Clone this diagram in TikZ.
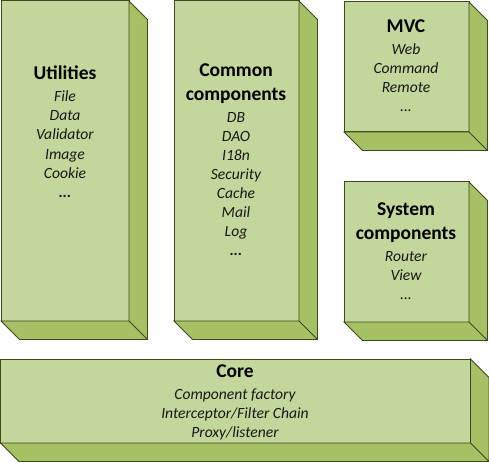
\documentclass[tikz,border=0pt]{standalone}
\usepackage{fontspec}
\setmainfont{Carlito}
\usepackage{tikz}
\usetikzlibrary{positioning,calc}

\definecolor{frontgreen}{HTML}{C3D69B}
\definecolor{sidegreen}{HTML}{A6C064}
\definecolor{edgegreen}{HTML}{3B4A1F}

\tikzset{
  box/.style={rectangle, draw=edgegreen, fill=frontgreen, line width=1pt, inner sep=0pt, outer sep=0pt, anchor=north west},
  depth/.style={draw=edgegreen, fill=sidegreen, line width=0.9pt, line join=miter},
  caption/.style={align=center, text=black!90, font=\fontsize{15.6}{19}\selectfont\itshape, anchor=base, inner sep=0pt}
}
\newcommand{\heading}[1]{{\upshape\bfseries\color{black}\fontsize{19.5}{22}\selectfont #1}}

\begin{document}
\begin{tikzpicture}[x=1pt, y=-1pt]
    \useasboundingbox (0,0) rectangle (489,462);

    % Front faces
    \node [box, minimum width=128, minimum height=320] (util) at (1,1) {};
    \node [box, minimum width=125, minimum height=320] (common) at (174,1) {};
    \node [box, minimum width=125, minimum height=130] (mvc) at (344,2) {};
    \node [box, minimum width=125, minimum height=140] (sys) at (344,182) {};
    \node [box, minimum width=470, minimum height=84] (core) at (0.5,359) {};

    % Depth (right and bottom faces)
    \foreach \n in {util,common,mvc,sys,core}
        \filldraw [depth] (\n.north east) -- ++(18.5,18.5)
            -- ($(\n.south east)+(18.5,18.5)$) -- ($(\n.south west)+(18.5,18.5)$)
            -- (\n.south west) -- (\n.south east) -- cycle
            (\n.south east) -- ++(18.5,18.5);

    % Texts (placed by the baseline of their last line)
    \node [caption] (util-text) at (65,197) {\heading{Utilities}\\[3pt]File\\Data\\Validator\\Image\\Cookie\\\textbf{...}};
    \node [caption] (common-text) at (236,255) {\heading{Common}\\[5pt]\heading{components}\\[3pt]DB\\DAO\\I18n\\Security\\Cache\\Mail\\Log\\\textbf{...}};
    \node [caption] (mvc-text) at (406,112) {\heading{MVC}\\[3pt]Web\\Command\\Remote\\...};
    \node [caption] (sys-text) at (406,299) {\heading{System}\\[5pt]\heading{components}\\[3pt]Router\\View\\...};
    \node [caption] (core-text) at (235,437) {\heading{Core}\\[3pt]Component factory\\Interceptor/Filter Chain\\Proxy/listener};
\end{tikzpicture}
\end{document}
